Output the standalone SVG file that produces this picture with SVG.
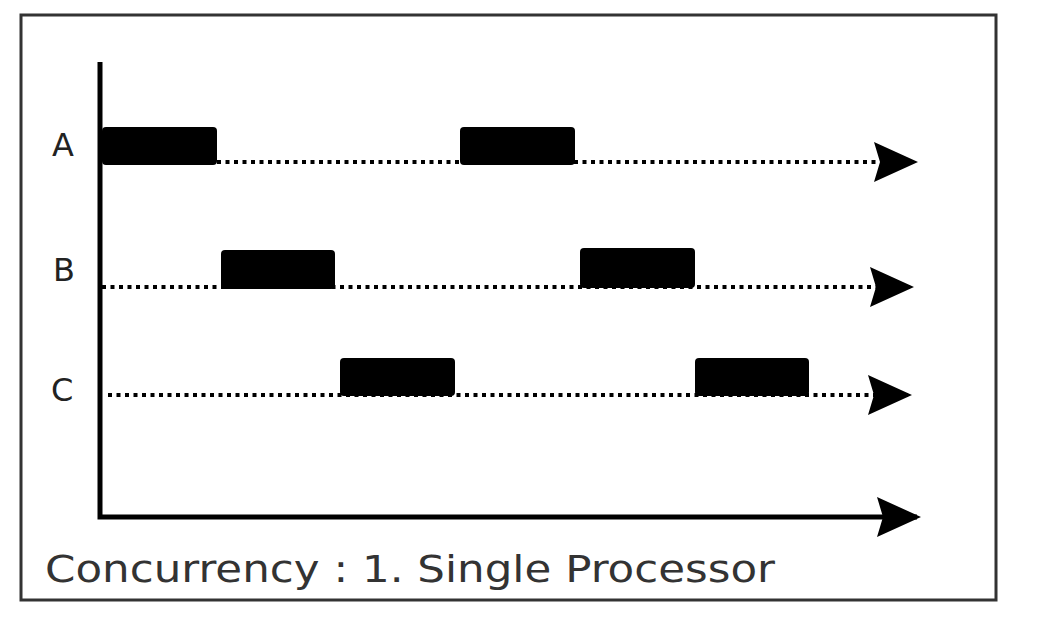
<svg xmlns="http://www.w3.org/2000/svg" width="1050" height="640" viewBox="0 0 1050 640">
<defs>
<style>
.lbl{font-family:"DejaVu Sans",sans-serif;font-size:32px;fill:#222}
.cap{font-family:"DejaVu Sans",sans-serif;font-size:38px;fill:#333}
.dot{stroke:#000;stroke-width:4;stroke-dasharray:4 4.5;fill:none}
.axis{stroke:#000;stroke-width:5;fill:none}
.bar{fill:#000}
</style>
<marker id="ah" viewBox="0 0 44 40" refX="40" refY="20" markerWidth="44" markerHeight="40" markerUnits="userSpaceOnUse" orient="auto">
<path d="M0,0 L44,20 L0,40 L6,20 Z" fill="#000"/>
</marker>
</defs>
<rect x="0" y="0" width="1050" height="640" fill="#fff"/>
<rect x="21" y="15" width="975" height="585" fill="#fff" stroke="#333" stroke-width="3"/>
<g id="connectors">
<path class="axis" d="M100,62 V517 H917" marker-end="url(#ah)"/>
<path class="dot" d="M217,162 H914" marker-end="url(#ah)"/>
<path class="dot" d="M102,287 H910" marker-end="url(#ah)"/>
<path class="dot" d="M108,395 H908" marker-end="url(#ah)"/>
</g>
<g id="label-A"><text class="lbl" x="52" y="156">A</text></g>
<g id="label-B"><text class="lbl" x="53" y="281">B</text></g>
<g id="label-C"><text class="lbl" x="51" y="401">C</text></g>
<g id="A1"><rect class="bar" x="102" y="127" width="115" height="38" rx="4"/></g>
<g id="A2"><rect class="bar" x="460" y="127" width="115" height="38" rx="4"/></g>
<g id="B1"><rect class="bar" x="221" y="250" width="114" height="39" rx="4"/></g>
<g id="B2"><rect class="bar" x="580" y="248" width="115" height="40" rx="4"/></g>
<g id="C1"><rect class="bar" x="340" y="358" width="115" height="38" rx="4"/></g>
<g id="C2"><rect class="bar" x="695" y="358" width="114" height="38" rx="4"/></g>
<g id="caption"><text class="cap" x="45" y="582" textLength="730" lengthAdjust="spacingAndGlyphs">Concurrency : 1. Single Processor</text></g>
</svg>
